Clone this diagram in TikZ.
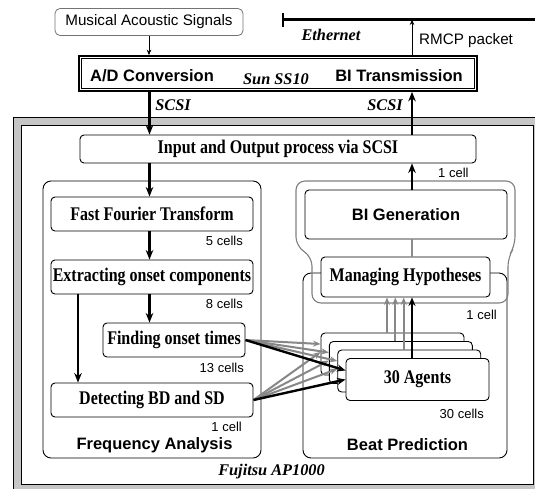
\documentclass[tikz,border=0pt]{standalone}
\usepackage{fontspec}
\setmainfont{Liberation Sans}
\newfontfamily\tmsb{Liberation Serif}[FakeStretch=0.83]
\newfontfamily\tmsi{Liberation Serif}
\usetikzlibrary{arrows.meta}
\newcommand\fSerB{\tmsb\bfseries\fontsize{19.3}{21}\selectfont}
\newcommand\fSanB{\bfseries\fontsize{16.5}{19}\selectfont}
\newcommand\fItl{\tmsi\bfseries\itshape\fontsize{16.3}{19}\selectfont}
\newcommand\fLab{\fontsize{13}{15}\selectfont}
\newcommand\fMid{\fontsize{15.2}{18}\selectfont}
\tikzset{
  box/.style={draw, rounded corners=4pt, fill=white, line width=0.9pt, inner sep=1pt, font=\fSerB},
  sbox/.style={box, font=\fSanB},
  grp/.style={draw, rounded corners=8pt, fill=white, line width=0.9pt, inner sep=0pt},
  sig/.style={draw=black!55, rounded corners=5pt, fill=white, line width=0.8pt, inner sep=0pt, font=\fMid},
  lab/.style={inner sep=0pt, font=\fLab},
  itl/.style={inner sep=0pt, font=\fItl},
  sanb/.style={inner sep=0pt, font=\fSanB},
  thinarr/.style={line width=0.7pt, -{Stealth[length=5.5pt,width=4.5pt]}},
  bigarr/.style={line width=2.3pt, -{Stealth[length=9.5pt,width=7.5pt]}},
  grayarr/.style={draw=black!47, line width=2pt, -{Stealth[length=7.5pt,width=6pt]}},
  blkarr/.style={line width=2.4pt, -{Stealth[length=8.5pt,width=7pt]}},
  agent/.style={box, minimum width=143pt, minimum height=42pt}
}
\begin{document}
\begin{tikzpicture}[x=1pt,y=-1pt]
\useasboundingbox (0,0) rectangle (535,488);
% Fujitsu frame
\draw[fill=gray!45, line width=0.8pt] (13,117) rectangle (560,510);
\draw[fill=white, line width=0.8pt] (21,125) rectangle (533,484);
\node[itl] (fuj) at (271.5,472) {Fujitsu AP1000};

% top part
\node[sig, minimum width=188pt, minimum height=27pt] (musical) at (149,22) {Musical Acoustic Signals};
\node[draw, line width=1.7pt, minimum width=398pt, minimum height=35pt, inner sep=0pt] (sun) at (278,73.5) {};
\draw[line width=0.8pt] ([shift={(3.2pt,-3.2pt)}]sun.north west) rectangle ([shift={(-3.2pt,3.2pt)}]sun.south east);
\node[sanb, anchor=base] (ad) at (152,81) {A/D Conversion};
\node[itl, anchor=base] (sunl) at (276,84.5) {Sun SS10};
\node[sanb, anchor=base] (bit) at (399,81) {BI Transmission};

\coordinate (ethL) at (283,19.5);
\coordinate (ethR) at (545,19.5);
\draw[line width=3pt] (ethL) -- (ethR);
\draw[line width=2.6pt] ([yshift=6.5pt]ethL) -- ([yshift=-7pt]ethL);
\node[itl] (eth) at (331,35) {Ethernet};

\coordinate (colL) at (149.5,0);
\coordinate (colR) at (412,0);
\coordinate (colD) at (78,0);

\draw[thinarr] (musical.south) -- (musical.south |- sun.north);
\draw[thinarr] (sun.north -| colR) -- (ethL -| colR);
\node[lab, font=\fMid, anchor=west] (rmcp) at (419,41) {RMCP packet};

% input/output
\node[box, minimum width=396pt, minimum height=28pt] (io) at (278,149) {Input and Output process via SCSI};
\draw[bigarr] (sun.south -| colL) -- (io.north -| colL);
\draw[bigarr] (io.north -| colR) -- (sun.south -| colR);
\node[itl] (scsiL) at (173,105) {SCSI};
\node[itl] (scsiR) at (385,105) {SCSI};

% groups
\node[grp, minimum width=218pt, minimum height=277pt] (freq) at (152,319.5) {};
\node[sanb] (freql) at (154.5,445) {Frequency Analysis};
\node[grp, minimum width=204pt, minimum height=185pt] (beat) at (405,365.5) {};
\node[sanb] (beatl) at (407.5,445) {Beat Prediction};

% gray outline around BI generation and hypotheses
\draw[black!50, line width=1.1pt, rounded corners=9pt]
  (296,181) -- (515,181) -- (515,246) -- (508,257) -- (508,303) -- (312,303) -- (312,257) -- (296,246) -- cycle;

\node[sbox, minimum width=202pt, minimum height=49pt] (bigen) at (406,214.5) {BI Generation};
\node[box, minimum width=169pt, minimum height=40pt] (mh) at (405.5,277) {Managing Hypotheses};
\draw[black!45, line width=2.6pt] (bigen.south -| colR) -- (mh.north -| colR);
\draw[bigarr] (bigen.north -| colR) -- (io.south -| colR);
\node[lab, anchor=west] (c1a) at (438,173) {1 cell};
\node[lab, anchor=east] (c1b) at (497,315) {1 cell};

% frequency analysis boxes
\node[box, minimum width=202pt, minimum height=34pt] (fft) at (152,214) {Fast Fourier Transform};
\node[box, minimum width=202pt, minimum height=34pt] (extract) at (152,277) {Extracting onset components};
\node[box, minimum width=142pt, minimum height=34pt] (finding) at (174,340) {Finding onset times};
\node[box, minimum width=202pt, minimum height=34pt] (detect) at (152,400) {Detecting BD and SD};
\node[lab, anchor=east] (c5) at (243,241) {5 cells};
\node[lab, anchor=east] (c8) at (243,304) {8 cells};
\node[lab, anchor=east] (c13) at (244,368) {13 cells};
\node[lab, anchor=east] (c1c) at (242,427) {1 cell};

\draw[bigarr] (io.south -| colL) -- (fft.north -| colL);
\draw[bigarr] (fft.south -| colL) -- (extract.north -| colL);
\draw[bigarr] (extract.south -| colL) -- (finding.north -| colL);
\draw[bigarr] (extract.south -| colD) -- (detect.north -| colD);

% agents
\node[agent] (ag0) at (392.5,354) {};
\node[agent] (ag1) at (400.8,362.5) {};
\node[agent] (ag2) at (409.2,371) {};
\node[agent] (ag3) at (417.5,379.5) {30 Agents};
\node[lab, anchor=east] (c30) at (484,414) {30 cells};

\draw[grayarr] ([xshift=-5.5pt]ag0.north) -- ([xshift=-5.5pt]ag0.north |- mh.south);
\draw[grayarr] ([xshift=-5.5pt]ag1.north) -- ([xshift=-5.5pt]ag1.north |- mh.south);
\draw[grayarr] ([xshift=-5.5pt]ag2.north) -- ([xshift=-5.5pt]ag2.north |- mh.south);
\draw[blkarr] ([xshift=-5.5pt]ag3.north) -- ([xshift=-5.5pt]ag3.north |- mh.south);

\draw[grayarr] (finding.east) -- ([yshift=10pt]ag0.west);
\draw[grayarr] (finding.east) -- ([yshift=10pt]ag1.west);
\draw[grayarr] (finding.east) -- ([yshift=10pt]ag2.west);
\draw[grayarr] (detect.east) -- ([yshift=2pt]ag0.west);
\draw[grayarr] (detect.east) -- ([yshift=2pt]ag1.west);
\draw[grayarr] (detect.east) -- ([yshift=2pt]ag2.west);
\draw[blkarr] (finding.east) -- ([yshift=9pt]ag3.west);
\draw[blkarr] (detect.east) -- (ag3.west);
\end{tikzpicture}
\end{document}
